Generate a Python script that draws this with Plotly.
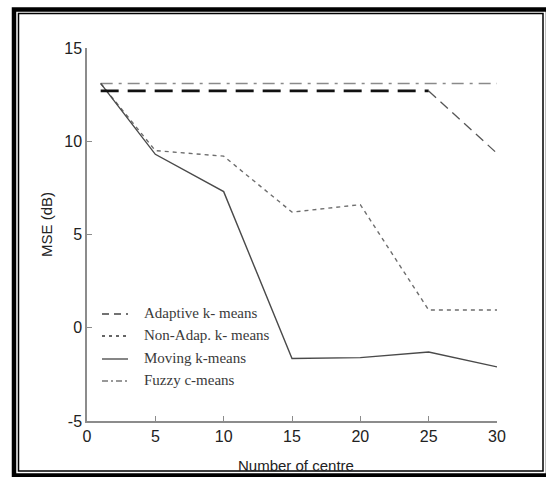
import plotly.graph_objects as go

# ---- data ----
x_centres = [1, 5, 10, 15, 20, 25, 30]
adaptive_x = [1, 25, 30]
adaptive_y = [12.7, 12.7, 9.35]
nonadap_y = [13.1, 9.5, 9.2, 6.2, 6.6, 0.95, 0.95]
moving_y = [13.1, 9.3, 7.3, -1.65, -1.6, -1.3, -2.1]
fuzzy_x = [1, 30]
fuzzy_y = [13.1, 13.1]

series_names = ["Adaptive k- means", "Non-Adap. k- means", "Moving k-means", "Fuzzy c-means"]
x_ticks = [0, 5, 10, 15, 20, 25, 30]
y_ticks = [-5, 0, 5, 10, 15]

# ---- geometry (pixels) ----
W, H = 546, 477
ML, MR, MT, MB = 87, 49, 48, 56
PW, PH = W - ML - MR, H - MT - MB


def px(x):
    return (x - ML) / PW


def py(y):
    return (H - MB - y) / PH


style_adapt_flat = dict(color="#111111", width=2.6, dash="18px,9px")
style_adapt_slope = dict(color="#555555", width=1.3, dash="10px,6px")
style_nonadap = dict(color="#6e6e6e", width=1.4, dash="4px,4px")
style_moving = dict(color="#4a4a4a", width=1.4, dash="solid")
style_fuzzy = dict(color="#8a8a8a", width=1.4, dash="12px,6px,3px,6px")

fig = go.Figure()
fig.add_trace(go.Scatter(x=fuzzy_x, y=fuzzy_y, mode="lines", line=style_fuzzy, name=series_names[3]))
fig.add_trace(go.Scatter(x=x_centres, y=nonadap_y, mode="lines", line=style_nonadap, name=series_names[1]))
fig.add_trace(go.Scatter(x=x_centres, y=moving_y, mode="lines", line=style_moving, name=series_names[2]))
fig.add_trace(go.Scatter(x=adaptive_x[1:], y=adaptive_y[1:], mode="lines", line=style_adapt_slope, name=series_names[0]))
fig.add_trace(go.Scatter(x=adaptive_x[:2], y=adaptive_y[:2], mode="lines", line=style_adapt_flat, name=series_names[0]))

shapes = []
annotations = []

# legend (manual)
legend_styles = [
    dict(color="#444444", width=1.3, dash="7px,5px"),
    dict(color="#333333", width=1.6, dash="3px,4px"),
    dict(color="#444444", width=1.3, dash="solid"),
    dict(color="#777777", width=1.3, dash="6px,3px,2px,3px"),
]
leg_y = [314, 336, 359, 381]
for name, st, ly in zip(series_names, legend_styles, leg_y):
    shapes.append(dict(type="line", xref="paper", yref="paper",
                       x0=px(102), x1=px(128), y0=py(ly), y1=py(ly), line=st))
    annotations.append(dict(text=name, xref="paper", yref="paper", x=px(142), y=py(ly - 1),
                            xanchor="left", yanchor="middle", showarrow=False,
                            font=dict(family="Liberation Serif", size=15, color="#3a3a3a")))

# axis titles
annotations.append(dict(text="MSE (dB)", xref="paper", yref="paper", x=px(46), y=py(225),
                        textangle=-90, xanchor="center", yanchor="middle", showarrow=False,
                        font=dict(family="Liberation Sans", size=15, color="#222222")))
annotations.append(dict(text="Number of centre", xref="paper", yref="paper", x=px(296), y=py(465),
                        xanchor="center", yanchor="middle", showarrow=False,
                        font=dict(family="Liberation Sans", size=15, color="#222222")))

# double frame
shapes.append(dict(type="rect", xref="paper", yref="paper",
                   x0=px(14), x1=px(548), y0=py(9.5), y1=py(475.5),
                   line=dict(color="black", width=4.5), fillcolor="rgba(0,0,0,0)", layer="above"))
shapes.append(dict(type="rect", xref="paper", yref="paper",
                   x0=px(18.5), x1=px(543), y0=py(13.5), y1=py(471),
                   line=dict(color="black", width=1.5), fillcolor="rgba(0,0,0,0)", layer="above"))

axis_common = dict(showline=True, linecolor="#8c8c8c", linewidth=1.5, ticks="inside",
                   ticklen=5, tickcolor="#8c8c8c", tickwidth=1, showgrid=False, zeroline=False,
                   tickfont=dict(family="Liberation Sans", size=16, color="#222222"), mirror=False)

fig.update_layout(
    width=W, height=H,
    margin=dict(l=ML, r=MR, t=MT, b=MB),
    paper_bgcolor="white", plot_bgcolor="white",
    showlegend=False,
    xaxis=dict(range=[0, 30], tickvals=x_ticks, ticktext=[str(v) for v in x_ticks], **axis_common),
    yaxis=dict(range=[-5, 15], tickvals=y_ticks, ticktext=[str(v) for v in y_ticks], **axis_common),
    shapes=shapes, annotations=annotations,
)

fig.write_html("out.html")
